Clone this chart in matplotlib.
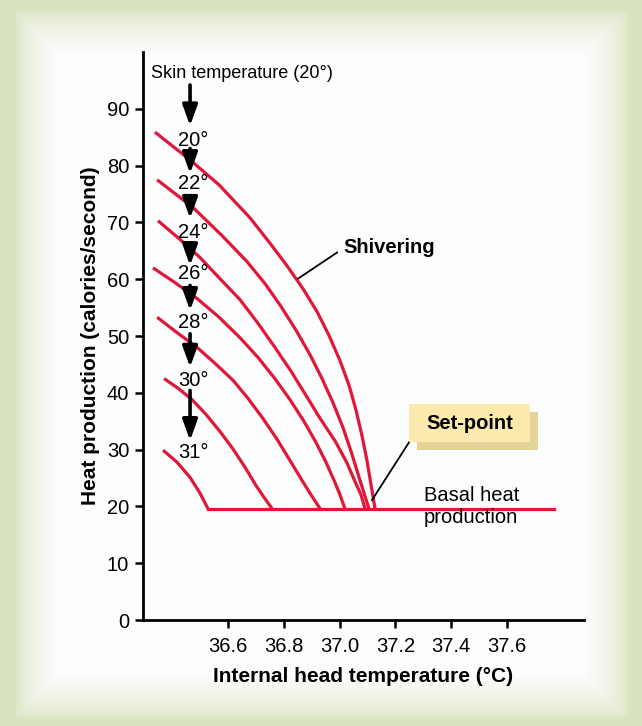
import matplotlib
matplotlib.use("Agg")
import matplotlib.pyplot as plt
import numpy as np
from matplotlib.patches import Rectangle

plt.rcParams["font.family"] = ["Liberation Sans", "DejaVu Sans"]

# ---------------------------------------------------------------------------
# Data
# ---------------------------------------------------------------------------
BASAL = 19.6
BASAL_END = 37.77

# skin temperature -> (internal head temp, heat production) along each curve
curves = {
    "20°": ([36.338, 36.464, 36.568, 36.679, 36.751, 36.811, 36.869, 36.919, 36.962,
             37.001, 37.034, 37.059, 37.080, 37.098, 37.113, 37.127],
            [85.9, 81.0, 76.6, 70.8, 66.3, 62.4, 58.3, 54.3, 50.1,
             45.7, 41.3, 36.9, 32.5, 28.1, 23.7, BASAL]),
    "22°": ([36.346, 36.475, 36.578, 36.668, 36.733, 36.790, 36.844, 36.894, 36.937,
             36.976, 37.012, 37.041, 37.073, 37.105],
            [77.5, 72.6, 67.7, 63.1, 59.2, 55.2, 51.0, 46.7, 42.5,
             38.3, 33.9, 29.7, 24.6, BASAL]),
    "24°": ([36.349, 36.428, 36.500, 36.571, 36.643, 36.708, 36.768, 36.826, 36.880,
             36.930, 36.984, 37.027, 37.055, 37.077, 37.091],
            [70.3, 67.0, 63.8, 60.1, 56.4, 52.2, 48.0, 43.8, 39.5,
             35.5, 31.5, 27.6, 24.4, 22.0, BASAL]),
    "26°": ([36.331, 36.410, 36.489, 36.568, 36.643, 36.708, 36.768, 36.822, 36.872,
             36.915, 36.951, 36.980, 37.001, 37.019],
            [62.0, 59.4, 56.6, 53.3, 49.7, 46.2, 42.5, 38.8, 35.0,
             31.3, 27.8, 24.6, 22.1, BASAL]),
    "28°": ([36.346, 36.417, 36.489, 36.553, 36.618, 36.672, 36.725, 36.776, 36.822,
             36.865, 36.898, 36.930],
            [53.3, 50.6, 48.0, 45.2, 42.2, 39.0, 35.5, 31.8, 28.1,
             24.6, 22.0, BASAL]),
    "30°": ([36.371, 36.421, 36.471, 36.521, 36.571, 36.618, 36.661, 36.700, 36.729, 36.758],
            [42.5, 40.8, 38.8, 36.2, 33.2, 30.1, 26.9, 23.7, 21.6, BASAL]),
    "31°": ([36.367, 36.417, 36.464, 36.500, 36.528],
            [29.9, 27.8, 25.1, 22.3, BASAL]),
}

# down arrows between the skin temperature labels: (top, tip)
ARROW_X = 36.464
arrow_tops = [94.2, 83.0, 74.7, 66.4, 58.9, 50.4, 40.4]
arrow_tips = [87.0, 78.6, 70.7, 62.4, 54.5, 44.5, 31.6]
label_y = [84.4, 76.8, 68.2, 61.0, 52.4, 42.2, 29.5]

xticks = [36.6, 36.8, 37.0, 37.2, 37.4, 37.6]
yticks = list(range(0, 100, 10))

RED = "#e0173a"

# ---------------------------------------------------------------------------
# Figure + framed background
# ---------------------------------------------------------------------------
W, H = 642, 726
fig = plt.figure(figsize=(W / 100, H / 100), dpi=100)

bg = fig.add_axes([0, 0, 1, 1], zorder=-5)
yy, xx = np.mgrid[0:H, 0:W]
left, right, top, bottom = 14, 628, 10, 718
d = np.minimum.reduce([xx - left, right - xx, yy - top, bottom - yy]).astype(float)
t = np.clip(d / 45.0, 0, 1) ** 0.6
t[d < 0] = 0
green = np.array([218, 227, 192]) / 255
white = np.array([252, 253, 253]) / 255
img = green[None, None, :] + (white - green)[None, None, :] * t[..., None]
bg.imshow(img, aspect="auto", extent=[0, 1, 0, 1])
bg.axis("off")

ax = fig.add_axes([143 / W, 106 / H, 441 / W, 568 / H])
ax.set_facecolor("none")

for name, (xs, ys) in curves.items():
    ax.plot(xs, ys, color=RED, lw=2.3, solid_capstyle="butt", solid_joinstyle="round")
ax.plot([curves["31°"][0][-1], BASAL_END], [BASAL, BASAL], color=RED, lw=2.3)

for top_, tip, ly, name in zip(arrow_tops, arrow_tips, label_y, curves.keys()):
    ax.annotate("", xy=(ARROW_X, tip), xytext=(ARROW_X, top_),
                arrowprops=dict(arrowstyle="-|>,head_length=1.25,head_width=0.45",
                                lw=2.6, color="black", shrinkA=0, shrinkB=0))
    ax.text(ARROW_X - 0.043, ly, name, fontsize=14.5, ha="left", va="center")

ax.text(36.324, 96.3, "Skin temperature (20°)", fontsize=13, ha="left", va="center")

# Shivering pointer
ax.plot([36.851, 36.991], [60.1, 64.7], color="black", lw=1.3)
ax.text(37.012, 65.6, "Shivering", fontsize=14.5, fontweight="bold", ha="left", va="center")

# Set-point box with drop shadow
ax.plot([37.116, 37.249], [21.1, 31.3], color="black", lw=1.3)
ax.add_patch(Rectangle((37.278, 31.3 - 1.4), 0.434, 6.7, facecolor="#e3d398",
                       edgecolor="none", zorder=3))
ax.add_patch(Rectangle((37.249, 31.3), 0.434, 6.7, facecolor="#fbe9ad",
                       edgecolor="none", zorder=4))
ax.text(37.466, 34.65, "Set-point", fontsize=14.5, fontweight="bold",
        ha="center", va="center", zorder=5)

ax.text(37.302, 20.0, "Basal heat\nproduction", fontsize=14.5, ha="left",
        va="center", linespacing=1.25)

# axes styling
ax.set_xlim(36.2953, 37.876)
ax.set_ylim(0, 100)
ax.set_xticks(xticks)
ax.set_xticklabels([f"{v:.1f}" for v in xticks])
ax.set_yticks(yticks)
for s in ["top", "right"]:
    ax.spines[s].set_visible(False)
for s in ["left", "bottom"]:
    ax.spines[s].set_linewidth(2.0)
ax.tick_params(axis="both", length=6, width=1.8, labelsize=14.5, direction="out")
ax.tick_params(axis="x", pad=6)
ax.tick_params(axis="y", pad=4)
ax.set_xlabel("Internal head temperature (°C)", fontsize=15, fontweight="bold", labelpad=8)
ax.set_ylabel("Heat production (calories/second)", fontsize=15, fontweight="bold", labelpad=5)

fig.savefig("out.png", dpi=100)
